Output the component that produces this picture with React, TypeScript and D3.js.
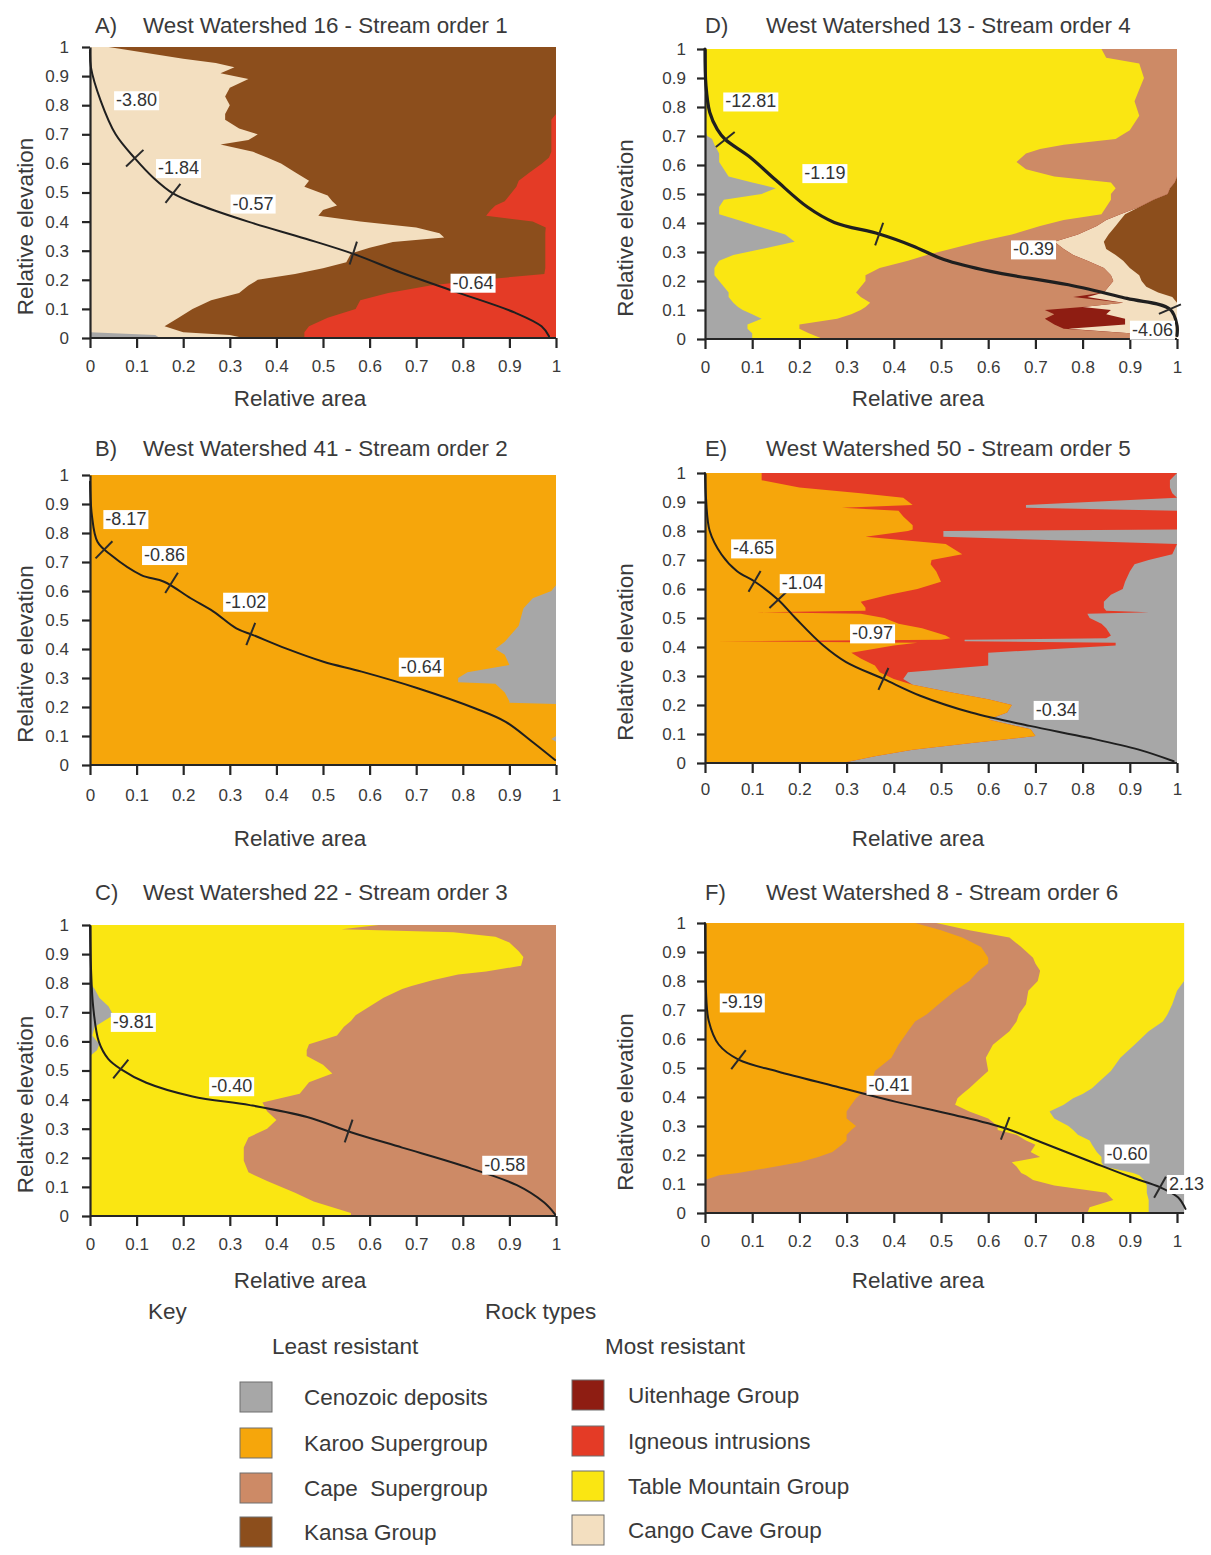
import React, { useEffect, useRef } from "react";
import * as d3 from "d3";

const FONT = "'Liberation Sans', Arial, sans-serif";

const COLORS: Record<string, string> = {
  cenozoic: "#a7a7a7",
  karoo: "#f6a60b",
  cape: "#cd8a66",
  kansa: "#8c4e1c",
  uitenhage: "#8e1d12",
  igneous: "#e43b26",
  table: "#fae612",
  cango: "#f3dfc0",
};

const TICKS = [0, 0.1, 0.2, 0.3, 0.4, 0.5, 0.6, 0.7, 0.8, 0.9, 1];
const TICK_LABELS = ["0", "0.1", "0.2", "0.3", "0.4", "0.5", "0.6", "0.7", "0.8", "0.9", "1"];

// ---- Panel A : West Watershed 16 - Stream order 1
// elevation levels, and right edge (cumulative relative area) of each rock layer
const aElev = [1, 0.96, 0.945, 0.93, 0.91, 0.89, 0.86, 0.83, 0.8, 0.77, 0.75, 0.72, 0.7, 0.68, 0.665, 0.64, 0.62, 0.6, 0.57, 0.54, 0.52, 0.49, 0.47, 0.455, 0.44, 0.42, 0.4, 0.38, 0.36, 0.345, 0.33, 0.31, 0.29, 0.26, 0.24, 0.22, 0.2, 0.18, 0.155, 0.13, 0.1, 0.07, 0.04, 0.02, 0.01, 0];
const aCenozoic = [0, 0, 0, 0, 0, 0, 0, 0, 0, 0, 0, 0, 0, 0, 0, 0, 0, 0, 0, 0, 0, 0, 0, 0, 0, 0, 0, 0, 0, 0, 0, 0, 0, 0, 0, 0, 0, 0, 0, 0, 0, 0, 0, 0, 0.14, 0.15];
const aCango = [0.04, 0.2, 0.27, 0.31, 0.28, 0.34, 0.3, 0.29, 0.3, 0.29, 0.29, 0.32, 0.36, 0.34, 0.28, 0.35, 0.38, 0.41, 0.44, 0.47, 0.46, 0.51, 0.52, 0.53, 0.5, 0.49, 0.58, 0.7, 0.75, 0.76, 0.65, 0.6, 0.56, 0.55, 0.5, 0.44, 0.36, 0.34, 0.32, 0.26, 0.22, 0.19, 0.16, 0.2, 0.3, 0.33];
const aKansa = [1, 1, 1, 1, 1, 1, 1, 1, 1, 1, 0.99, 0.99, 0.99, 0.99, 0.99, 0.99, 0.985, 0.97, 0.944, 0.92, 0.915, 0.9, 0.89, 0.87, 0.86, 0.85, 0.95, 0.978, 0.977, 0.977, 0.977, 0.977, 0.977, 0.977, 0.977, 0.975, 0.84, 0.73, 0.64, 0.58, 0.57, 0.51, 0.47, 0.46, 0.46, 0.46];
const aCurveX = [0, 0.002, 0.023, 0.055, 0.096, 0.137, 0.178, 0.235, 0.341, 0.463, 0.565, 0.667, 0.79, 0.912, 0.969, 0.985];
const aCurveY = [0.99, 0.93, 0.815, 0.7, 0.618, 0.549, 0.497, 0.457, 0.399, 0.341, 0.289, 0.225, 0.156, 0.087, 0.04, 0.006];
const aBreakX = [0.096, 0.178, 0.565];
const aBreakY = [0.618, 0.497, 0.292];
const aLabels = ["-3.80", "-1.84", "-0.57", "-0.64"];
const aLabelX = [0.1, 0.19, 0.35, 0.822];
const aLabelY = [0.817, 0.584, 0.462, 0.19];

// ---- Panel B : West Watershed 41 - Stream order 2
const bElev = [1, 0.62, 0.61, 0.6, 0.575, 0.54, 0.48, 0.425, 0.4, 0.38, 0.345, 0.32, 0.3, 0.285, 0.28, 0.25, 0.22, 0.215, 0.21, 0.1, 0.09, 0.08, 0];
const bKaroo = [1, 1, 0.995, 0.99, 0.95, 0.93, 0.92, 0.89, 0.87, 0.89, 0.9, 0.81, 0.79, 0.79, 0.87, 0.89, 0.9, 0.9, 1, 1, 0.99, 1, 1];
const bCurveX = [0, 0.004, 0.016, 0.045, 0.11, 0.159, 0.216, 0.265, 0.314, 0.35, 0.42, 0.501, 0.583, 0.705, 0.827, 0.892, 0.949, 0.998];
const bCurveY = [0.977, 0.862, 0.77, 0.724, 0.655, 0.632, 0.575, 0.529, 0.471, 0.448, 0.402, 0.356, 0.322, 0.264, 0.195, 0.149, 0.08, 0.017];
const bBreakX = [0.03, 0.175, 0.345];
const bBreakY = [0.742, 0.628, 0.452];
const bLabels = ["-8.17", "-0.86", "-1.02", "-0.64"];
const bLabelX = [0.077, 0.16, 0.334, 0.711];
const bLabelY = [0.848, 0.724, 0.563, 0.339];

// ---- Panel C : West Watershed 22 - Stream order 3
const cElev = [1, 0.985, 0.975, 0.96, 0.94, 0.91, 0.89, 0.86, 0.84, 0.83, 0.81, 0.79, 0.78, 0.75, 0.72, 0.69, 0.67, 0.65, 0.62, 0.59, 0.57, 0.55, 0.52, 0.49, 0.46, 0.42, 0.39, 0.36, 0.33, 0.3, 0.27, 0.235, 0.19, 0.15, 0.12, 0.08, 0.05, 0.01, 0];
const cCenozoic = [0, 0, 0, 0, 0, 0, 0, 0, 0, 0, 0, 0.005, 0.01, 0.02, 0.04, 0.05, 0.03, 0.01, 0.005, 0.02, 0.015, 0, 0, 0, 0, 0, 0, 0, 0, 0, 0, 0, 0, 0, 0, 0, 0, 0, 0];
const cTable = [0.62, 0.54, 0.78, 0.87, 0.9, 0.92, 0.93, 0.925, 0.85, 0.79, 0.735, 0.69, 0.67, 0.63, 0.6, 0.57, 0.56, 0.545, 0.53, 0.47, 0.465, 0.465, 0.5, 0.52, 0.47, 0.45, 0.37, 0.38, 0.4, 0.38, 0.34, 0.33, 0.33, 0.34, 0.38, 0.44, 0.48, 0.56, 0.56];
const cCurveX = [0, 0.002, 0.007, 0.019, 0.039, 0.066, 0.121, 0.22, 0.343, 0.466, 0.56, 0.67, 0.793, 0.916, 0.974, 0.998];
const cCurveY = [0.998, 0.857, 0.716, 0.599, 0.54, 0.505, 0.458, 0.411, 0.381, 0.34, 0.288, 0.235, 0.176, 0.106, 0.047, 0.006];
const cBreakX = [0.066, 0.555];
const cBreakY = [0.505, 0.292];
const cLabels = ["-9.81", "-0.40", "-0.58"];
const cLabelX = [0.093, 0.304, 0.89];
const cLabelY = [0.667, 0.446, 0.176];

// ---- Panel D : West Watershed 13 - Stream order 4
const dElev = [1, 0.97, 0.95, 0.9, 0.86, 0.82, 0.77, 0.72, 0.7, 0.69, 0.67, 0.655, 0.64, 0.61, 0.585, 0.56, 0.54, 0.52, 0.5, 0.48, 0.455, 0.43, 0.41, 0.39, 0.36, 0.335, 0.31, 0.29, 0.27, 0.245, 0.22, 0.2, 0.18, 0.16, 0.145, 0.125, 0.11, 0.1, 0.085, 0.07, 0.05, 0.035, 0.02, 0];
const dCenozoic = [0, 0, 0, 0, 0, 0, 0, 0, 0.005, 0.015, 0.02, 0.025, 0.03, 0.03, 0.04, 0.05, 0.1, 0.15, 0.12, 0.04, 0.03, 0.03, 0.07, 0.11, 0.17, 0.19, 0.12, 0.06, 0.03, 0.02, 0.02, 0.03, 0.04, 0.05, 0.05, 0.06, 0.07, 0.08, 0.1, 0.12, 0.09, 0.09, 0.1, 0.1];
const dTable = [0.84, 0.85, 0.92, 0.93, 0.92, 0.91, 0.92, 0.9, 0.88, 0.87, 0.76, 0.71, 0.68, 0.66, 0.68, 0.74, 0.86, 0.87, 0.86, 0.86, 0.85, 0.84, 0.76, 0.71, 0.65, 0.58, 0.52, 0.47, 0.43, 0.37, 0.34, 0.34, 0.33, 0.32, 0.33, 0.35, 0.34, 0.33, 0.31, 0.28, 0.2, 0.2, 0.22, 0.25];
const dCape = [1, 1, 1, 1, 1, 1, 1, 1, 1, 1, 1, 1, 1, 1, 1, 1, 0.995, 0.985, 0.98, 0.95, 0.92, 0.88, 0.85, 0.83, 0.79, 0.74, 0.76, 0.78, 0.81, 0.845, 0.86, 0.865, 0.855, 0.845, 0.78, 0.886, 0.8, 0.72, 0.74, 0.72, 0.74, 0.76, 0.9, 1];
const dUitenhage = [1, 1, 1, 1, 1, 1, 1, 1, 1, 1, 1, 1, 1, 1, 1, 1, 0.995, 0.985, 0.98, 0.95, 0.92, 0.88, 0.85, 0.83, 0.79, 0.74, 0.76, 0.78, 0.81, 0.845, 0.86, 0.865, 0.855, 0.845, 0.81, 0.886, 0.8, 0.86, 0.85, 0.89, 0.89, 0.77, 0.9, 1];
const dCango = [1, 1, 1, 1, 1, 1, 1, 1, 1, 1, 1, 1, 1, 1, 1, 1, 0.995, 0.985, 0.98, 0.95, 0.92, 0.89, 0.88, 0.87, 0.855, 0.845, 0.85, 0.87, 0.886, 0.9, 0.92, 0.925, 0.935, 0.96, 0.99, 1, 1, 1, 1, 1, 1, 1, 1, 1];
const dCurveX = [0, 0.002, 0.01, 0.026, 0.043, 0.093, 0.15, 0.217, 0.274, 0.369, 0.44, 0.506, 0.605, 0.77, 0.894, 0.985, 1, 1];
const dCurveY = [1, 0.875, 0.782, 0.723, 0.688, 0.63, 0.548, 0.455, 0.402, 0.362, 0.321, 0.274, 0.233, 0.187, 0.14, 0.103, 0.047, 0.012];
const dBreakX = [0.043, 0.369, 0.985];
const dBreakY = [0.688, 0.362, 0.103];
const dLabels = ["-12.81", "-1.19", "-0.39", "-4.06"];
const dLabelX = [0.097, 0.254, 0.696, 0.948];
const dLabelY = [0.819, 0.572, 0.309, 0.032];

// ---- Panel E : West Watershed 50 - Stream order 5
const eElev = [1, 0.975, 0.95, 0.93, 0.915, 0.89, 0.88, 0.87, 0.85, 0.82, 0.805, 0.8, 0.78, 0.755, 0.72, 0.7, 0.685, 0.66, 0.625, 0.6, 0.58, 0.556, 0.535, 0.525, 0.52, 0.515, 0.5, 0.48, 0.465, 0.44, 0.43, 0.425, 0.42, 0.415, 0.405, 0.38, 0.36, 0.336, 0.313, 0.29, 0.27, 0.244, 0.22, 0.2, 0.174, 0.15, 0.116, 0.093, 0.07, 0.046, 0.023, 0];
const eKaroo = [0.12, 0.12, 0.2, 0.33, 0.42, 0.44, 0.29, 0.41, 0.42, 0.44, 0.44, 0.43, 0.34, 0.51, 0.545, 0.48, 0.478, 0.49, 0.5, 0.45, 0.39, 0.33, 0.34, 0.34, 0.11, 0.33, 0.38, 0.41, 0.46, 0.51, 0.52, 0.5, 0.025, 0.45, 0.4, 0.31, 0.33, 0.36, 0.37, 0.4, 0.44, 0.52, 0.6, 0.65, 0.64, 0.6, 0.69, 0.7, 0.57, 0.44, 0.36, 0.29];
const eIgneous = [1, 0.985, 0.985, 0.99, 1, 0.68, 0.68, 1, 1, 1, 1, 0.505, 0.505, 1, 0.99, 0.94, 0.91, 0.9, 0.89, 0.885, 0.86, 0.845, 0.845, 0.85, 0.94, 0.81, 0.815, 0.84, 0.85, 0.86, 0.85, 0.55, 0.55, 0.87, 0.87, 0.6, 0.6, 0.6, 0.43, 0.42, 0.44, 0.52, 0.6, 0.65, 0.64, 0.6, 0.69, 0.7, 0.57, 0.44, 0.36, 0.29];
const eCurveX = [0, 0.002, 0.01, 0.035, 0.068, 0.105, 0.155, 0.192, 0.25, 0.299, 0.378, 0.456, 0.564, 0.688, 0.812, 0.919, 0.993];
const eCurveY = [1, 0.916, 0.8, 0.719, 0.661, 0.626, 0.563, 0.499, 0.406, 0.348, 0.29, 0.232, 0.174, 0.128, 0.087, 0.046, 0.006];
const eBreakX = [0.105, 0.155, 0.378];
const eBreakY = [0.626, 0.563, 0.29];
const eLabels = ["-4.65", "-1.04", "-0.97", "-0.34"];
const eLabelX = [0.103, 0.206, 0.355, 0.744];
const eLabelY = [0.74, 0.62, 0.447, 0.183];

// ---- Panel F : West Watershed 8 - Stream order 6
const fElev = [1, 0.975, 0.95, 0.917, 0.88, 0.86, 0.835, 0.8, 0.766, 0.72, 0.685, 0.66, 0.627, 0.58, 0.535, 0.49, 0.46, 0.43, 0.41, 0.396, 0.373, 0.35, 0.326, 0.3, 0.286, 0.27, 0.25, 0.235, 0.21, 0.193, 0.175, 0.16, 0.138, 0.13, 0.114, 0.095, 0.07, 0.045, 0.02, 0];
const fKaroo = [0.445, 0.5, 0.545, 0.585, 0.6, 0.6, 0.58, 0.56, 0.53, 0.495, 0.47, 0.445, 0.43, 0.41, 0.395, 0.36, 0.355, 0.35, 0.33, 0.32, 0.31, 0.3, 0.3, 0.32, 0.31, 0.3, 0.3, 0.29, 0.27, 0.24, 0.2, 0.15, 0.07, 0.03, 0, 0, 0, 0, 0, 0];
const fCape = [0.49, 0.56, 0.645, 0.67, 0.695, 0.7, 0.71, 0.705, 0.685, 0.68, 0.665, 0.66, 0.645, 0.61, 0.595, 0.6, 0.58, 0.56, 0.545, 0.535, 0.53, 0.56, 0.6, 0.62, 0.62, 0.66, 0.68, 0.7, 0.69, 0.71, 0.65, 0.66, 0.67, 0.68, 0.695, 0.74, 0.85, 0.865, 0.815, 0.81];
const fTable = [1.015, 1.015, 1.015, 1.015, 1.015, 1.015, 1.015, 1.015, 1, 0.99, 0.98, 0.97, 0.94, 0.91, 0.88, 0.86, 0.84, 0.82, 0.8, 0.78, 0.76, 0.73, 0.74, 0.77, 0.78, 0.79, 0.815, 0.82, 0.83, 0.84, 0.84, 0.845, 0.907, 0.92, 0.93, 0.936, 0.936, 0.94, 0.94, 0.94];
const fCurveX = [0, 0.001, 0.002, 0.008, 0.029, 0.071, 0.154, 0.278, 0.403, 0.528, 0.636, 0.711, 0.819, 0.902, 0.964, 1.002, 1.018];
const fCurveY = [1, 0.85, 0.766, 0.662, 0.581, 0.529, 0.488, 0.436, 0.384, 0.338, 0.292, 0.245, 0.176, 0.124, 0.089, 0.054, 0.014];
const fBreakX = [0.071, 0.636, 0.964];
const fBreakY = [0.529, 0.292, 0.089];
const fLabels = ["-9.19", "-0.41", "-0.60", "2.13"];
const fLabelX = [0.079, 0.39, 0.894, 1.02];
const fLabelY = [0.726, 0.442, 0.205, 0.1];

// ---- Key
const keyLeft = ["Cenozoic deposits", "Karoo Supergroup", "Cape  Supergroup", "Kansa Group"];
const keyLeftRock = ["cenozoic", "karoo", "cape", "kansa"];
const keyRight = ["Uitenhage Group", "Igneous intrusions", "Table Mountain Group", "Cango Cave Group"];
const keyRightRock = ["uitenhage", "igneous", "table", "cango"];

type Layer = { rock: string; edge: number[] | null };
type Panel = {
  tag: string; title: string; col: number;
  top: number; bottom: number; titleY: number; xPad: number; xTitleY: number;
  total: number; lineW: number;
  elev: number[]; layers: Layer[];
  curveX: number[]; curveY: number[]; breakX: number[]; breakY: number[];
  labels: string[]; labelX: number[]; labelY: number[];
};

const COLS = [
  { left: 90, right: 556, tagX: 95, titleX: 143, yTitleX: 25, yPad: 13 },
  { left: 705, right: 1177, tagX: 705, titleX: 766, yTitleX: 625, yPad: 11 },
];

const panels: Panel[] = [
  {
    tag: "A)", title: "West Watershed 16 - Stream order 1", col: 0,
    top: 47, bottom: 338, titleY: 25, xPad: 12, xTitleY: 398, total: 1, lineW: 2,
    elev: aElev,
    layers: [{ rock: "cenozoic", edge: aCenozoic }, { rock: "cango", edge: aCango }, { rock: "kansa", edge: aKansa }, { rock: "igneous", edge: null }],
    curveX: aCurveX, curveY: aCurveY, breakX: aBreakX, breakY: aBreakY,
    labels: aLabels, labelX: aLabelX, labelY: aLabelY,
  },
  {
    tag: "B)", title: "West Watershed 41 - Stream order 2", col: 0,
    top: 475, bottom: 765, titleY: 448, xPad: 14, xTitleY: 838, total: 1, lineW: 2,
    elev: bElev,
    layers: [{ rock: "karoo", edge: bKaroo }, { rock: "cenozoic", edge: null }],
    curveX: bCurveX, curveY: bCurveY, breakX: bBreakX, breakY: bBreakY,
    labels: bLabels, labelX: bLabelX, labelY: bLabelY,
  },
  {
    tag: "C)", title: "West Watershed 22 - Stream order 3", col: 0,
    top: 925, bottom: 1216, titleY: 892, xPad: 12, xTitleY: 1280, total: 1, lineW: 2,
    elev: cElev,
    layers: [{ rock: "cenozoic", edge: cCenozoic }, { rock: "table", edge: cTable }, { rock: "cape", edge: null }],
    curveX: cCurveX, curveY: cCurveY, breakX: cBreakX, breakY: cBreakY,
    labels: cLabels, labelX: cLabelX, labelY: cLabelY,
  },
  {
    tag: "D)", title: "West Watershed 13 - Stream order 4", col: 1,
    top: 49, bottom: 339, titleY: 25, xPad: 12, xTitleY: 398, total: 1, lineW: 3.2,
    elev: dElev,
    layers: [
      { rock: "cenozoic", edge: dCenozoic }, { rock: "table", edge: dTable }, { rock: "cape", edge: dCape },
      { rock: "uitenhage", edge: dUitenhage }, { rock: "cango", edge: dCango }, { rock: "kansa", edge: null },
    ],
    curveX: dCurveX, curveY: dCurveY, breakX: dBreakX, breakY: dBreakY,
    labels: dLabels, labelX: dLabelX, labelY: dLabelY,
  },
  {
    tag: "E)", title: "West Watershed 50 - Stream order 5", col: 1,
    top: 473, bottom: 763, titleY: 448, xPad: 10, xTitleY: 838, total: 1, lineW: 2,
    elev: eElev,
    layers: [{ rock: "karoo", edge: eKaroo }, { rock: "igneous", edge: eIgneous }, { rock: "cenozoic", edge: null }],
    curveX: eCurveX, curveY: eCurveY, breakX: eBreakX, breakY: eBreakY,
    labels: eLabels, labelX: eLabelX, labelY: eLabelY,
  },
  {
    tag: "F)", title: "West Watershed 8 - Stream order 6", col: 1,
    top: 923, bottom: 1213, titleY: 892, xPad: 12, xTitleY: 1280, total: 1.015, lineW: 2,
    elev: fElev,
    layers: [{ rock: "karoo", edge: fKaroo }, { rock: "cape", edge: fCape }, { rock: "table", edge: fTable }, { rock: "cenozoic", edge: null }],
    curveX: fCurveX, curveY: fCurveY, breakX: fBreakX, breakY: fBreakY,
    labels: fLabels, labelX: fLabelX, labelY: fLabelY,
  },
];

function drawPanel(svg: d3.Selection<SVGSVGElement, unknown, null, undefined>, p: Panel) {
  const c = COLS[p.col];
  const x = d3.scaleLinear().domain([0, 1]).range([c.left, c.right]);
  const y = d3.scaleLinear().domain([0, 1]).range([p.bottom, p.top]);
  const g = svg.append("g");

  // rock layers: paint right-most first, every layer from x = 0 so no seams show
  for (let i = p.layers.length - 1; i >= 0; i--) {
    const layer = p.layers[i];
    const edge = layer.edge ?? p.elev.map(() => p.total);
    const area = d3
      .area<number>()
      .y((d, j) => y(p.elev[j]))
      .x0(x(0))
      .x1(d => x(d));
    g.append("path").datum(edge).attr("d", area).attr("fill", COLORS[layer.rock]);
  }

  // axes
  const yAxis = d3
    .axisLeft(y)
    .tickValues(TICKS)
    .tickFormat((d, i) => TICK_LABELS[i])
    .tickSize(8)
    .tickSizeOuter(0)
    .tickPadding(c.yPad);
  const xAxis = d3
    .axisBottom(x)
    .tickValues(TICKS)
    .tickFormat((d, i) => TICK_LABELS[i])
    .tickSize(10)
    .tickSizeOuter(0)
    .tickPadding(p.xPad);

  const ya = g.append("g").attr("transform", `translate(${c.left},0)`).call(yAxis);
  const xa = g.append("g").attr("transform", `translate(0,${p.bottom})`).call(xAxis);
  xa.select(".domain").attr("d", `M${x(0)},0H${x(p.total)}`);
  [ya, xa].forEach(a => {
    a.selectAll("path, line").attr("stroke", "#262626").attr("stroke-width", 2.2);
    a.selectAll("text")
      .attr("fill", "#3a3a3a")
      .style("font-size", "17px")
      .style("font-family", FONT);
  });

  // hypsometric curve
  const pts: [number, number][] = p.curveX.map((cx, i) => [x(cx), y(p.curveY[i])]);
  const line = d3.line().curve(d3.curveCatmullRom.alpha(0.5));
  g.append("path")
    .attr("d", line(pts))
    .attr("fill", "none")
    .attr("stroke", "#1f1f1f")
    .attr("stroke-width", p.lineW)
    .attr("stroke-linecap", "round");

  // break marks, drawn across the curve
  p.breakX.forEach((bx, k) => {
    const px = x(bx);
    const py = y(p.breakY[k]);
    let best = 0;
    let bestD = Infinity;
    for (let i = 0; i < pts.length - 1; i++) {
      const mx = (pts[i][0] + pts[i + 1][0]) / 2;
      const my = (pts[i][1] + pts[i + 1][1]) / 2;
      const dd = (mx - px) ** 2 + (my - py) ** 2;
      if (dd < bestD) {
        bestD = dd;
        best = i;
      }
    }
    let dx = pts[best + 1][0] - pts[best][0];
    let dy = pts[best + 1][1] - pts[best][1];
    const len = Math.hypot(dx, dy) || 1;
    dx /= len;
    dy /= len;
    const h = 12;
    g.append("line")
      .attr("x1", px - dy * h)
      .attr("y1", py + dx * h)
      .attr("x2", px + dy * h)
      .attr("y2", py - dx * h)
      .attr("stroke", "#2a2a2a")
      .attr("stroke-width", 2);
  });

  // slope labels on white boxes
  p.labels.forEach((txt, k) => {
    const lg = g.append("g");
    const t = lg
      .append("text")
      .attr("x", x(p.labelX[k]))
      .attr("y", y(p.labelY[k]))
      .attr("text-anchor", "middle")
      .attr("dominant-baseline", "central")
      .attr("fill", "#333")
      .style("font-size", "18px")
      .style("font-family", FONT)
      .text(txt);
    const bb = (t.node() as SVGTextElement).getBBox();
    lg.insert("rect", "text")
      .attr("x", bb.x - 2)
      .attr("y", bb.y + 1)
      .attr("width", bb.width + 4)
      .attr("height", bb.height - 1)
      .attr("fill", "#fff");
  });

  // titles
  const txt = (tx: number, ty: number, s: string, size: number, anchor = "start") =>
    g.append("text")
      .attr("x", tx)
      .attr("y", ty)
      .attr("text-anchor", anchor)
      .attr("dominant-baseline", "central")
      .attr("fill", "#3a3a3a")
      .style("font-size", size + "px")
      .style("font-family", FONT)
      .text(s);

  txt(c.tagX, p.titleY, p.tag, 22);
  txt(c.titleX, p.titleY, p.title, 22.4);
  txt((c.left + c.right) / 2 - 23, p.xTitleY, "Relative area", 22.5, "middle");
  txt(0, 0, "Relative elevation", 22.5, "middle").attr(
    "transform",
    `translate(${c.yTitleX},${(p.top + p.bottom) / 2 + 34}) rotate(-90)`
  );
}

function drawKey(svg: d3.Selection<SVGSVGElement, unknown, null, undefined>) {
  const g = svg.append("g").style("font-family", FONT);
  const head = (tx: number, ty: number, s: string) =>
    g.append("text")
      .attr("x", tx)
      .attr("y", ty)
      .attr("dominant-baseline", "central")
      .attr("fill", "#3a3a3a")
      .style("font-size", "22.5px")
      .style("white-space", "pre")
      .text(s);

  head(148, 1311, "Key");
  head(485, 1311, "Rock types");
  head(272, 1346, "Least resistant");
  head(605, 1346, "Most resistant");

  const rowsL = [1397, 1443, 1488, 1532];
  const rowsR = [1395, 1441, 1486, 1530];
  keyLeft.forEach((s, i) => {
    g.append("rect")
      .attr("x", 240).attr("y", rowsL[i] - 15).attr("width", 32).attr("height", 30)
      .attr("fill", COLORS[keyLeftRock[i]]).attr("stroke", "#6e6e6e").attr("stroke-width", 1);
    head(304, rowsL[i], s);
  });
  keyRight.forEach((s, i) => {
    g.append("rect")
      .attr("x", 572).attr("y", rowsR[i] - 15).attr("width", 32).attr("height", 30)
      .attr("fill", COLORS[keyRightRock[i]]).attr("stroke", "#6e6e6e").attr("stroke-width", 1);
    head(628, rowsR[i], s);
  });
}

export default function App() {
  const ref = useRef<SVGSVGElement>(null);

  useEffect(() => {
    const svg = d3.select(ref.current as SVGSVGElement);
    svg.selectAll("*").remove();
    panels.forEach(p => drawPanel(svg, p));
    drawKey(svg);
  }, []);

  return (
    <svg
      ref={ref}
      width={1211}
      height={1555}
      style={{ position: "absolute", left: 0, top: 0, background: "#fff" }}
    />
  );
}
